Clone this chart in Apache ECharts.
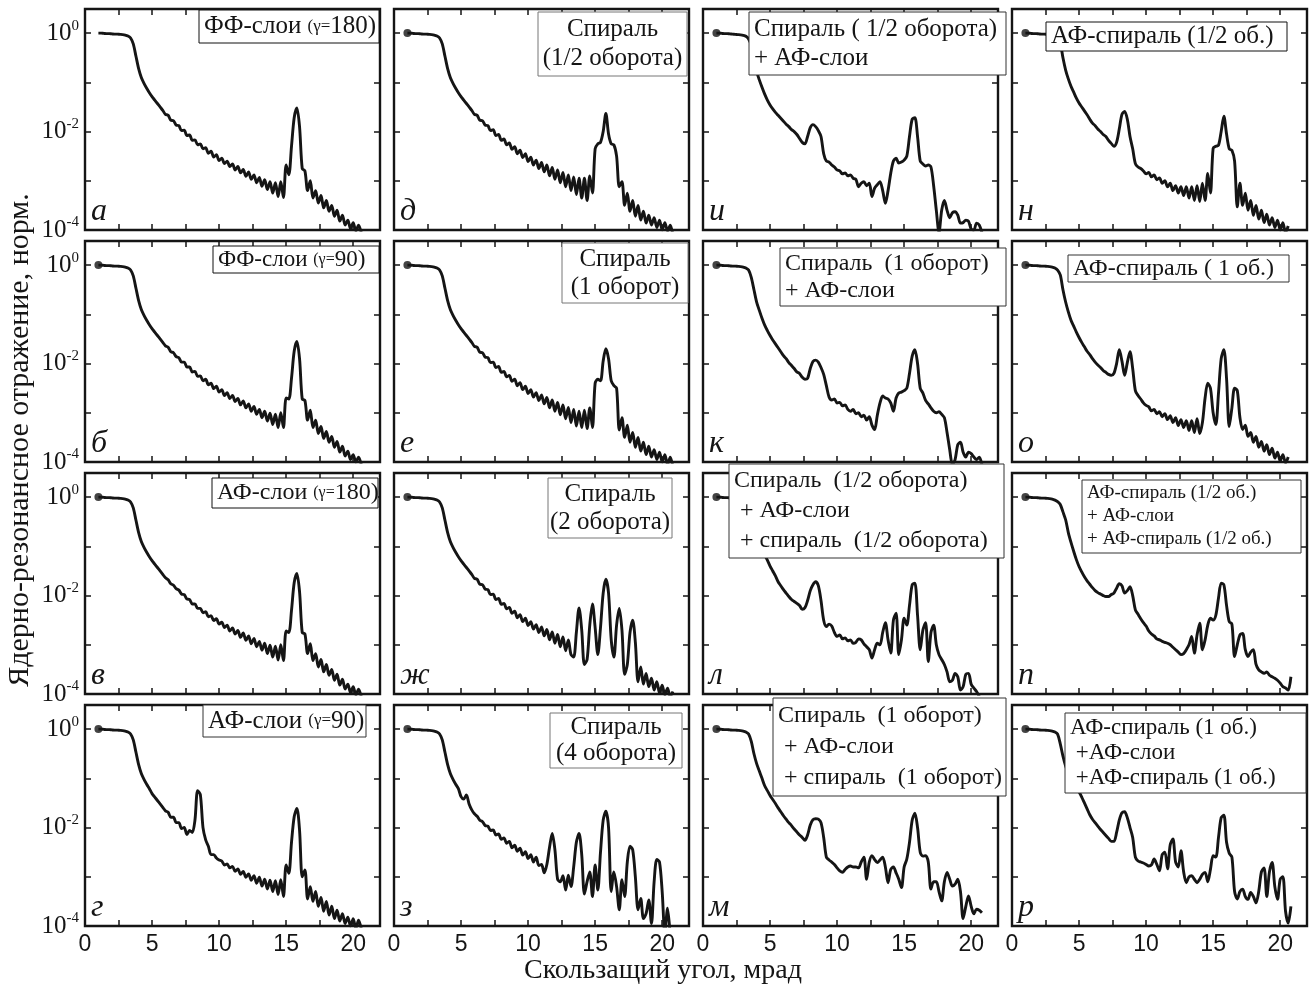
<!DOCTYPE html>
<html>
<head>
<meta charset="utf-8">
<script src="https://cdn.jsdelivr.net/npm/echarts@6/dist/echarts.min.js"></script>
<style>
  html, body { margin: 0; padding: 0; background: #fff; }
  #chart { width: 1312px; height: 990px; }
</style>
</head>
<body>
<div id="chart"></div>
<script>
// скользящий угол, мрад (общая сетка для всех панелей)
const angle = [
  1.0, 1.2, 1.4, 1.6, 1.8, 2.0, 2.2, 2.4, 2.6, 2.8,
  3.0, 3.2, 3.4, 3.6, 3.8, 4.0, 4.2, 4.4, 4.6, 4.8,
  5.0, 5.2, 5.4, 5.6, 5.8, 6.0, 6.2, 6.4, 6.6, 6.8,
  7.0, 7.2, 7.4, 7.6, 7.8, 8.0, 8.2, 8.4, 8.6, 8.8,
  9.0, 9.2, 9.4, 9.6, 9.8, 10.0, 10.2, 10.4, 10.6, 10.8,
  11.0, 11.2, 11.4, 11.6, 11.8, 12.0, 12.2, 12.4, 12.6, 12.8,
  13.0, 13.2, 13.4, 13.6, 13.8, 14.0, 14.2, 14.4, 14.6, 14.8,
  15.0, 15.2, 15.4, 15.6, 15.8, 16.0, 16.2, 16.4, 16.6, 16.8,
  17.0, 17.2, 17.4, 17.6, 17.8, 18.0, 18.2, 18.4, 18.6, 18.8,
  19.0, 19.2, 19.4, 19.6, 19.8, 20.0, 20.2, 20.4, 20.6, 20.8
];

// lg(отражения)
const lgA = [
  0, 0, -0.005, -0.01, -0.01, -0.015, -0.02, -0.02, -0.025, -0.03,
  -0.04, -0.06, -0.1, -0.22, -0.47, -0.72, -0.9, -1.02, -1.12, -1.21,
  -1.29, -1.36, -1.43, -1.5, -1.57, -1.65, -1.67, -1.77, -1.78, -1.87,
  -1.88, -1.98, -1.97, -2.08, -2.07, -2.18, -2.17, -2.27, -2.25, -2.35,
  -2.33, -2.44, -2.40, -2.52, -2.47, -2.59, -2.54, -2.65, -2.60, -2.71,
  -2.66, -2.78, -2.71, -2.84, -2.77, -2.91, -2.82, -2.97, -2.88, -3.04,
  -2.93, -3.11, -2.98, -3.18, -3.02, -3.25, -3.04, -3.32, -3.02, -3.34,
  -2.68, -2.88, -2.3, -1.72, -1.52, -1.9, -2.75, -2.8, -3.2, -3.0,
  -3.35, -3.2, -3.45, -3.3, -3.55, -3.4, -3.62, -3.5, -3.72, -3.6,
  -3.82, -3.7, -3.9, -3.8, -3.97, -3.85, -4.02, -3.9, -4.05, null
];
const lgB = [
  0, 0, -0.005, -0.01, -0.01, -0.015, -0.02, -0.02, -0.025, -0.03,
  -0.04, -0.06, -0.1, -0.22, -0.47, -0.72, -0.9, -1.02, -1.12, -1.21,
  -1.29, -1.36, -1.43, -1.5, -1.57, -1.64, -1.67, -1.76, -1.78, -1.86,
  -1.88, -1.97, -1.97, -2.07, -2.07, -2.17, -2.16, -2.26, -2.25, -2.35,
  -2.32, -2.43, -2.40, -2.51, -2.46, -2.58, -2.53, -2.65, -2.59, -2.71,
  -2.65, -2.77, -2.71, -2.84, -2.76, -2.90, -2.82, -2.97, -2.87, -3.03,
  -2.93, -3.10, -2.97, -3.17, -3.01, -3.24, -3.03, -3.30, -3.00, -3.30,
  -2.7, -2.72, -2.3, -1.75, -1.55, -1.9, -2.72, -2.75, -3.15, -2.95,
  -3.3, -3.15, -3.42, -3.28, -3.52, -3.38, -3.6, -3.48, -3.7, -3.58,
  -3.8, -3.68, -3.88, -3.78, -3.95, -3.85, -4.0, -3.9, -4.05, null
];
const lgV = [
  0, 0, -0.005, -0.01, -0.01, -0.015, -0.02, -0.02, -0.025, -0.03,
  -0.04, -0.06, -0.1, -0.22, -0.47, -0.72, -0.9, -1.02, -1.12, -1.21,
  -1.29, -1.36, -1.43, -1.5, -1.57, -1.64, -1.68, -1.76, -1.79, -1.86,
  -1.89, -1.97, -1.98, -2.07, -2.08, -2.17, -2.17, -2.26, -2.26, -2.35,
  -2.33, -2.43, -2.41, -2.51, -2.47, -2.58, -2.54, -2.65, -2.60, -2.72,
  -2.66, -2.78, -2.71, -2.85, -2.76, -2.91, -2.82, -2.98, -2.87, -3.04,
  -2.93, -3.11, -2.97, -3.18, -3.01, -3.25, -3.03, -3.31, -3.0, -3.32,
  -2.72, -2.75, -2.3, -1.74, -1.55, -1.92, -2.75, -2.78, -3.18, -2.98,
  -3.32, -3.18, -3.45, -3.3, -3.55, -3.4, -3.62, -3.5, -3.72, -3.6,
  -3.82, -3.7, -3.9, -3.8, -3.97, -3.85, -4.02, -3.9, -4.05, null
];
const lgG = [
  0, 0, -0.005, -0.01, -0.01, -0.015, -0.02, -0.02, -0.025, -0.03,
  -0.04, -0.06, -0.1, -0.22, -0.47, -0.72, -0.9, -1.02, -1.12, -1.21,
  -1.31, -1.38, -1.45, -1.52, -1.59, -1.66, -1.69, -1.79, -1.79, -1.90,
  -1.90, -2.02, -2.0, -2.14, -2.06, -2.1, -1.85, -1.25, -1.33, -2.0,
  -2.25, -2.38, -2.55, -2.55, -2.62, -2.66, -2.68, -2.76, -2.74, -2.82,
  -2.79, -2.89, -2.84, -2.95, -2.89, -3.01, -2.94, -3.07, -2.98, -3.13,
  -3.01, -3.19, -3.05, -3.25, -3.07, -3.3, -3.08, -3.36, -3.06, -3.4,
  -2.76, -2.93, -2.3, -1.78, -1.61, -2.05, -3.0, -2.86, -3.45, -3.2,
  -3.5, -3.3, -3.6, -3.42, -3.7, -3.5, -3.78, -3.6, -3.85, -3.68,
  -3.9, -3.75, -3.95, -3.82, -4.0, -3.85, -4.05, -3.88, -4.05, null
];
const lgD = [
  0, 0, -0.005, -0.01, -0.01, -0.015, -0.02, -0.02, -0.025, -0.03,
  -0.04, -0.06, -0.1, -0.22, -0.47, -0.72, -0.9, -1.02, -1.12, -1.21,
  -1.29, -1.36, -1.43, -1.5, -1.57, -1.65, -1.67, -1.77, -1.78, -1.87,
  -1.88, -1.98, -1.96, -2.08, -2.06, -2.18, -2.15, -2.27, -2.23, -2.36,
  -2.31, -2.45, -2.38, -2.53, -2.45, -2.61, -2.52, -2.68, -2.58, -2.75,
  -2.63, -2.82, -2.68, -2.9, -2.73, -2.97, -2.78, -3.04, -2.83, -3.12,
  -2.88, -3.2, -2.92, -3.28, -2.95, -3.35, -2.95, -3.4, -2.9, -3.25,
  -2.35, -2.25, -2.22, -2.0, -1.63, -2.05, -2.25, -2.27, -2.5, -3.12,
  -3.02, -3.5, -3.25, -3.62, -3.4, -3.72, -3.5, -3.8, -3.62, -3.86,
  -3.7, -3.9, -3.75, -3.95, -3.8, -4.0, -3.85, -4.02, -3.9, -4.1
];
const lgE = [
  0, 0, -0.005, -0.01, -0.01, -0.015, -0.02, -0.02, -0.025, -0.03,
  -0.04, -0.06, -0.1, -0.22, -0.47, -0.72, -0.9, -1.02, -1.12, -1.21,
  -1.29, -1.36, -1.43, -1.5, -1.57, -1.65, -1.67, -1.77, -1.78, -1.87,
  -1.88, -1.98, -1.97, -2.08, -2.06, -2.18, -2.16, -2.27, -2.24, -2.36,
  -2.32, -2.45, -2.39, -2.53, -2.46, -2.61, -2.53, -2.68, -2.59, -2.75,
  -2.64, -2.82, -2.69, -2.9, -2.74, -2.97, -2.79, -3.04, -2.84, -3.12,
  -2.89, -3.2, -2.93, -3.27, -2.97, -3.3, -2.95, -3.32, -2.9, -3.3,
  -2.4, -2.32, -2.35, -1.95, -1.7, -1.9, -2.35, -2.45, -2.5, -3.35,
  -3.1, -3.5, -3.25, -3.6, -3.4, -3.7, -3.5, -3.78, -3.6, -3.85,
  -3.68, -3.9, -3.75, -3.95, -3.8, -4.0, -3.85, -4.05, -3.9, -4.1
];
const lgZh = [
  0, 0, -0.005, -0.01, -0.01, -0.015, -0.02, -0.02, -0.025, -0.03,
  -0.04, -0.06, -0.1, -0.22, -0.47, -0.72, -0.9, -1.02, -1.12, -1.21,
  -1.29, -1.36, -1.43, -1.5, -1.57, -1.65, -1.67, -1.77, -1.78, -1.87,
  -1.88, -1.98, -1.97, -2.08, -2.06, -2.18, -2.16, -2.27, -2.24, -2.36,
  -2.32, -2.45, -2.39, -2.53, -2.46, -2.61, -2.53, -2.68, -2.59, -2.75,
  -2.64, -2.82, -2.69, -2.9, -2.74, -2.97, -2.79, -3.04, -2.84, -3.12,
  -2.9, -3.2, -3.25, -2.75, -2.25, -2.7, -3.4, -3.3, -2.6, -2.17,
  -2.65, -3.2, -2.65, -1.95, -1.67, -1.95, -2.9, -3.25, -2.6, -2.26,
  -2.7, -3.6, -3.4, -2.75, -2.5, -2.95, -3.75, -3.45, -3.8, -3.58,
  -3.85, -3.68, -3.92, -3.75, -3.98, -3.82, -4.02, -3.88, -4.05, -3.95
];
const lgZ = [
  0, 0, -0.005, -0.01, -0.01, -0.015, -0.02, -0.02, -0.025, -0.03,
  -0.04, -0.06, -0.1, -0.22, -0.47, -0.72, -0.9, -1.02, -1.12, -1.21,
  -1.37, -1.42, -1.34, -1.52, -1.64, -1.72, -1.77, -1.85, -1.88, -1.96,
  -1.97, -2.06, -2.05, -2.15, -2.13, -2.24, -2.21, -2.32, -2.28, -2.41,
  -2.36, -2.48, -2.42, -2.56, -2.49, -2.63, -2.55, -2.7, -2.6, -2.77,
  -2.75, -2.92, -2.75, -2.4, -2.12, -2.45, -3.05, -3.1, -2.98, -3.27,
  -2.97, -3.2, -2.8, -2.3, -2.12, -2.55, -3.35, -3.1, -2.9, -3.4,
  -2.76, -3.27, -2.5, -1.85, -1.67, -2.0, -3.3, -2.9, -3.2, -3.67,
  -3.06, -3.4, -2.7, -2.38, -2.45, -3.0, -3.67, -3.44, -3.85, -3.75,
  -3.47, -3.95, -3.1, -2.65, -2.7, -3.3, -4.15, -3.64, -4.2, null
];
const lgI = [
  0, 0, -0.005, -0.01, -0.01, -0.015, -0.02, -0.025, -0.03, -0.035,
  -0.045, -0.065, -0.12, -0.25, -0.5, -0.78, -0.95, -1.1, -1.24, -1.36,
  -1.46, -1.54, -1.61, -1.67, -1.73, -1.79, -1.85, -1.9, -1.96, -2.0,
  -2.06, -2.14, -2.22, -2.25, -2.1, -1.92, -1.86, -1.9, -1.98, -2.1,
  -2.45, -2.6, -2.62, -2.68, -2.72, -2.78, -2.8, -2.86, -2.84, -2.9,
  -2.88, -2.95, -2.97, -3.12, -3.05, -3.02, -3.1, -3.05, -3.32, -3.15,
  -3.08, -3.02, -3.2, -3.46, -3.2, -2.85, -2.6, -2.54, -2.64, -2.62,
  -2.58, -2.5, -2.1, -1.75, -1.72, -2.1, -2.6, -2.66, -2.7, -2.68,
  -2.72, -3.1, -3.6, -4.05, -3.6, -3.4, -3.6, -3.75, -3.65, -3.63,
  -3.7, -3.86, -3.85, -3.8, -3.82, -3.98, -4.0, -3.86, -3.9, -4.05
];
const lgK = [
  0, 0, -0.005, -0.01, -0.01, -0.015, -0.02, -0.02, -0.025, -0.03,
  -0.04, -0.06, -0.1, -0.25, -0.5, -0.75, -0.92, -1.08, -1.22, -1.33,
  -1.43, -1.52, -1.6, -1.68, -1.76, -1.84, -1.9, -1.98, -2.04, -2.1,
  -2.17, -2.2, -2.28, -2.32, -2.3, -2.1, -1.96, -1.93, -1.97, -2.08,
  -2.22, -2.45, -2.68, -2.74, -2.72, -2.8, -2.79, -2.86, -2.84, -2.93,
  -2.97, -2.93, -3.02, -3.0, -3.08, -3.05, -3.15, -3.08, -3.25, -3.34,
  -3.05, -2.8, -2.66, -2.7, -2.72, -2.8, -2.97, -2.7, -2.6, -2.58,
  -2.55, -2.5, -2.2, -1.85, -1.72, -2.0, -2.5, -2.6, -2.75, -2.82,
  -2.9, -2.97, -3.0, -2.98, -3.03, -3.1, -3.4, -3.75, -4.05, -3.95,
  -3.65, -3.6, -3.8, -3.9, -3.8, -3.83, -3.9, -3.95, -3.9, -4.05
];
const lgL = [
  0, 0, -0.005, -0.01, -0.01, -0.015, -0.02, -0.02, -0.025, -0.03,
  -0.04, -0.06, -0.1, -0.25, -0.5, -0.75, -0.92, -1.06, -1.18, -1.28,
  -1.4, -1.5, -1.6, -1.72, -1.8, -1.88, -1.95, -2.02, -2.08, -2.12,
  -2.16, -2.2, -2.28, -2.25, -2.1, -1.9, -1.78, -1.72, -1.8, -2.1,
  -2.5, -2.63, -2.58, -2.62, -2.75, -2.83, -2.8, -2.88, -2.86, -2.92,
  -2.9, -2.97, -2.95, -2.88, -2.9, -2.98, -3.04, -3.1, -3.27, -3.1,
  -2.97, -3.0, -2.75, -2.55, -2.9, -3.17, -2.5, -2.36, -3.2, -2.9,
  -2.46, -2.6, -2.2, -1.78, -1.75, -2.4, -3.1, -2.7, -2.55, -3.34,
  -2.75, -2.6, -3.0, -3.2, -3.3, -3.4, -3.55, -3.75, -3.72, -3.58,
  -3.65, -3.92, -3.85, -3.6, -3.58, -3.8, -3.88, -3.95, -4.05, null
];
const lgM = [
  0, 0, -0.005, -0.01, -0.01, -0.015, -0.02, -0.02, -0.025, -0.03,
  -0.04, -0.06, -0.1, -0.25, -0.5, -0.7, -0.85, -1.0, -1.15, -1.25,
  -1.35, -1.43, -1.51, -1.6, -1.68, -1.76, -1.83, -1.9, -1.96, -2.03,
  -2.09, -2.15, -2.2, -2.26, -2.15, -1.95, -1.84, -1.82, -1.83, -1.9,
  -2.2, -2.6, -2.66, -2.7, -2.75, -2.82, -2.88, -2.91, -2.85, -2.8,
  -2.78, -2.8, -2.8, -2.82, -2.7, -2.6, -3.05, -2.7, -2.57, -2.65,
  -2.71, -2.66, -2.6, -2.8, -3.12, -2.85, -2.8, -2.92, -3.05, -3.22,
  -2.8, -2.64, -2.3, -1.85, -1.71, -2.0, -2.5, -2.58, -2.57, -2.7,
  -3.25, -3.1, -3.1, -3.3, -3.49, -3.1, -2.91, -3.05, -3.19, -3.15,
  -3.05, -3.3, -3.85, -3.6, -3.39, -3.6, -3.75, -3.66, -3.68, -3.73
];
const lgN = [
  0, 0, -0.005, -0.01, -0.01, -0.015, -0.02, -0.02, -0.025, -0.03,
  -0.04, -0.06, -0.1, -0.2, -0.5, -0.75, -0.93, -1.08, -1.2, -1.32,
  -1.42, -1.5, -1.58, -1.66, -1.75, -1.83, -1.88, -1.95, -2.0, -2.06,
  -2.1, -2.18, -2.24, -2.3, -2.22, -1.95, -1.65, -1.59, -1.75, -2.1,
  -2.35, -2.65, -2.72, -2.75, -2.8, -2.86, -2.83, -2.92, -2.88, -2.98,
  -2.94, -3.05, -3.0, -3.12, -3.05, -3.2, -3.1, -3.25, -3.12, -3.3,
  -3.12, -3.35, -3.12, -3.4, -3.1, -3.42, -3.05, -3.4, -2.85, -3.25,
  -2.34, -2.3, -2.28, -2.0, -1.69, -2.05, -2.35, -2.38, -2.6, -3.53,
  -3.05, -3.5, -3.25, -3.6, -3.4, -3.7, -3.5, -3.78, -3.6, -3.85,
  -3.68, -3.9, -3.75, -3.95, -3.8, -4.0, -3.85, -4.05, -3.92, null
];
const lgO = [
  0, 0, -0.005, -0.01, -0.01, -0.015, -0.02, -0.02, -0.025, -0.03,
  -0.04, -0.06, -0.1, -0.2, -0.5, -0.75, -0.95, -1.12, -1.24, -1.36,
  -1.47, -1.57, -1.66, -1.75, -1.82, -1.9, -1.97, -2.03, -2.08, -2.14,
  -2.18, -2.22, -2.24, -2.2, -2.0, -1.72, -1.95, -2.24, -1.98, -1.76,
  -2.1, -2.55, -2.65, -2.72, -2.8, -2.85, -2.88, -2.96, -2.93, -3.02,
  -2.98, -3.08, -3.02, -3.14, -3.06, -3.2, -3.1, -3.26, -3.14, -3.3,
  -3.16, -3.36, -3.16, -3.4, -3.12, -3.42, -3.2, -2.7, -2.4, -2.5,
  -3.0, -3.24, -2.6, -1.9, -1.72, -2.3, -3.28, -2.9, -2.5, -2.55,
  -3.1, -3.34, -3.25, -3.48, -3.4, -3.6, -3.48, -3.7, -3.58, -3.78,
  -3.65, -3.85, -3.72, -3.92, -3.8, -3.98, -3.85, -4.02, -3.9, null
];
const lgP = [
  0, 0, -0.005, -0.01, -0.01, -0.015, -0.02, -0.02, -0.025, -0.03,
  -0.04, -0.06, -0.09, -0.15, -0.3, -0.46, -0.72, -0.92, -1.1, -1.27,
  -1.41, -1.52, -1.62, -1.7, -1.77, -1.84, -1.9, -1.94, -1.97, -2.0,
  -2.02, -2.02, -1.98, -1.95, -1.85, -1.76, -1.8, -1.95, -1.9, -1.82,
  -2.0, -2.29, -2.38, -2.47, -2.55, -2.62, -2.72, -2.78, -2.82, -2.88,
  -2.9, -2.93, -2.95, -2.97, -3.0, -3.05, -3.1, -3.15, -3.2, -3.18,
  -3.1, -3.0, -2.83, -3.17, -2.8, -2.56, -3.1, -2.9, -2.6, -2.46,
  -2.5, -2.4, -2.05, -1.75, -1.78, -2.2, -2.53, -2.58, -3.24, -3.0,
  -2.8, -2.77, -3.1, -3.24, -3.15, -3.1, -3.4, -3.51, -3.55, -3.58,
  -3.55, -3.62, -3.65, -3.68, -3.72, -3.78, -3.85, -3.88, -3.92, -3.65
];
const lgR = [
  0, 0, -0.005, -0.01, -0.01, -0.015, -0.02, -0.02, -0.025, -0.03,
  -0.04, -0.06, -0.1, -0.3, -0.55, -0.75, -0.9, -1.02, -1.12, -1.2,
  -1.28, -1.38, -1.5, -1.62, -1.74, -1.83, -1.9, -1.97, -2.04, -2.1,
  -2.16, -2.22, -2.28, -2.28, -2.1, -1.85, -1.7, -1.68, -1.8, -2.0,
  -2.2, -2.6, -2.68, -2.7, -2.72, -2.75, -2.78, -2.76, -2.64, -2.75,
  -2.88, -2.55, -2.5, -2.84, -2.35, -2.23, -2.7, -2.8, -2.47, -2.9,
  -3.12, -3.0, -2.98, -3.05, -3.12, -3.05, -2.95, -2.91, -3.1, -2.85,
  -2.57, -2.6, -2.2, -1.8, -1.75, -2.3, -2.52, -2.6, -3.3, -3.45,
  -3.3, -3.25, -3.4, -3.46, -3.32, -3.4, -3.53, -3.3, -2.9, -2.82,
  -3.4, -2.9, -2.71, -3.2, -3.46, -3.05, -3.0, -3.7, -3.94, -3.6
];

const panels = [
  { y: lgA, letter: 'а', col: 0, row: 0, dot: false },
  { y: lgB, letter: 'б', col: 0, row: 1, dot: true },
  { y: lgV, letter: 'в', col: 0, row: 2, dot: true },
  { y: lgG, letter: 'г', col: 0, row: 3, dot: true },
  { y: lgD, letter: 'д', col: 1, row: 0, dot: true },
  { y: lgE, letter: 'е', col: 1, row: 1, dot: true },
  { y: lgZh, letter: 'ж', col: 1, row: 2, dot: true },
  { y: lgZ, letter: 'з', col: 1, row: 3, dot: true },
  { y: lgI, letter: 'и', col: 2, row: 0, dot: true },
  { y: lgK, letter: 'к', col: 2, row: 1, dot: true },
  { y: lgL, letter: 'л', col: 2, row: 2, dot: true },
  { y: lgM, letter: 'м', col: 2, row: 3, dot: true },
  { y: lgN, letter: 'н', col: 3, row: 0, dot: true },
  { y: lgO, letter: 'о', col: 3, row: 1, dot: true },
  { y: lgP, letter: 'п', col: 3, row: 2, dot: true },
  { y: lgR, letter: 'р', col: 3, row: 3, dot: true }
];

// подписи в рамках: [x, y, w, h], строки, кегль, интерлиньяж, выравнивание, цвет рамки
const boxes = [
  { r: [199, 10, 180, 33], t: ['ФФ-слои {s|(γ=}180)'], fs: 25, lh: 30, al: 'left', c: '#111' },
  { r: [213, 246, 166, 27], t: ['ФФ-слои {s|(γ=}90)'], fs: 23, lh: 26, al: 'left', c: '#111' },
  { r: [212, 478, 166, 30], t: ['АФ-слои {s|(γ=}180)'], fs: 24, lh: 28, al: 'left', c: '#111' },
  { r: [203, 705, 163, 32], t: ['АФ-слои {s|(γ=}90)'], fs: 25, lh: 30, al: 'left', c: '#333' },
  { r: [538, 12, 149, 64], t: ['Спираль', '(1/2 оборота)'], fs: 25, lh: 29, al: 'center', c: '#777' },
  { r: [562, 243, 126, 60], t: ['Спираль', '(1 оборот)'], fs: 25, lh: 28, al: 'center', c: '#777' },
  { r: [548, 478, 124, 60], t: ['Спираль', '(2 оборота)'], fs: 25, lh: 28, al: 'center', c: '#777' },
  { r: [550, 713, 132, 55], t: ['Спираль', '(4 оборота)'], fs: 25, lh: 26, al: 'center', c: '#777' },
  { r: [749, 12, 257, 63], t: ['Спираль ( 1/2 оборота)', '+ АФ-слои'], fs: 25, lh: 29, al: 'left', c: '#333' },
  { r: [780, 248, 226, 58], t: ['Спираль  (1 оборот)', '+ АФ-слои'], fs: 24, lh: 27, al: 'left', c: '#333' },
  { r: [729, 464, 275, 94], t: ['Спираль  (1/2 оборота)', ' + АФ-слои', ' + спираль  (1/2 оборота)'], fs: 24, lh: 30, al: 'left', c: '#333' },
  { r: [773, 698, 233, 98], t: ['Спираль  (1 оборот)', ' + АФ-слои', ' + спираль  (1 оборот)'], fs: 24, lh: 31, al: 'left', c: '#333' },
  { r: [1046, 22, 241, 29], t: ['АФ-спираль (1/2 об.)'], fs: 25, lh: 28, al: 'left', c: '#111' },
  { r: [1068, 255, 221, 27], t: ['АФ-спираль ( 1 об.)'], fs: 24, lh: 26, al: 'left', c: '#333' },
  { r: [1082, 480, 219, 73], t: ['АФ-спираль (1/2 об.)', '+ АФ-слои', '+ АФ-спираль (1/2 об.)'], fs: 19, lh: 23, al: 'left', c: '#333' },
  { r: [1065, 713, 241, 80], t: ['АФ-спираль (1 об.)', ' +АФ-слои', ' +АФ-спираль (1 об.)'], fs: 23, lh: 25, al: 'left', c: '#333' }
];

const colLeft = [85, 394, 703, 1012];
const rowTop = [9, 241, 473, 705];
const W = 295, H = 221;
const serif = '"Liberation Serif", "Times New Roman", serif';
const sans = '"Liberation Sans", Arial, sans-serif';
const ink = '#151515';

const chart = echarts.init(document.getElementById('chart'));
const grids = [], xAxes = [], yAxes = [], series = [], elements = [];

panels.forEach((p, i) => {
  const left = colLeft[p.col], top = rowTop[p.row];
  grids.push({ left: left, top: top, width: W, height: H, show: true,
    borderColor: ink, borderWidth: 2.4, backgroundColor: 'rgba(0,0,0,0)' });
  const tick = { show: true, inside: true, length: 6, lineStyle: { color: ink, width: 1.5 } };
  const noLine = { show: false, onZero: false };
  xAxes.push({ gridIndex: i, type: 'value', position: 'bottom', min: 0, max: 22, interval: 2.5,
    axisLine: noLine, axisTick: tick, splitLine: { show: false },
    axisLabel: { show: p.row === 3, margin: 7, fontFamily: sans, fontSize: 23, color: ink,
      formatter: v => (v % 5 === 0 ? String(v) : '') } });
  xAxes.push({ gridIndex: i, type: 'value', position: 'top', min: 0, max: 22, interval: 2.5,
    axisLine: noLine, axisTick: tick, splitLine: { show: false }, axisLabel: { show: false } });
  yAxes.push({ gridIndex: i, type: 'value', position: 'left', min: -4, max: 0.49, interval: 1,
    axisLine: noLine, axisTick: tick, splitLine: { show: false },
    axisLabel: { show: p.col === 0, margin: 6,
      formatter: v => (v === 0 || v === -2 || v === -4 ? '{b|10}{s|' + (v === 0 ? '0' : String(v)) + '}' : ''),
      rich: {
        b: { fontFamily: serif, fontSize: 25, color: ink, lineHeight: 30 },
        s: { fontFamily: serif, fontSize: 15, color: ink, verticalAlign: 'top', lineHeight: 18 }
      } } });
  yAxes.push({ gridIndex: i, type: 'value', position: 'right', min: -4, max: 0.49, interval: 1,
    axisLine: noLine, axisTick: tick, splitLine: { show: false }, axisLabel: { show: false } });

  const pts = [];
  angle.forEach((x, k) => { if (p.y[k] !== null) pts.push([x, p.y[k]]); });
  series.push({ type: 'line', xAxisIndex: 2 * i, yAxisIndex: 2 * i, data: pts,
    smooth: 0.3, symbol: 'none', showSymbol: false, clip: true, z: 3,
    lineStyle: { color: ink, width: 2.9 } });
  if (p.dot) {
    series.push({ type: 'scatter', xAxisIndex: 2 * i, yAxisIndex: 2 * i,
      data: [[angle[0], p.y[0]]], symbolSize: 8, itemStyle: { color: ink }, z: 4 });
  }

  elements.push({ type: 'text', x: left + 6, y: top + H - 2, z: 60,
    style: { text: p.letter, fontFamily: serif, fontStyle: 'italic', fontSize: 32,
      fill: ink, verticalAlign: 'bottom', align: 'left' } });
});

boxes.forEach(b => {
  const [x, y, w, h] = b.r;
  elements.push({ type: 'rect', z: 100, shape: { x: x, y: y, width: w, height: h },
    style: { fill: '#fff', stroke: b.c, lineWidth: 1 } });
  const textTop = y + (h - b.t.length * b.lh) / 2;
  elements.push({ type: 'text', z: 101,
    x: b.al === 'center' ? x + w / 2 : x + 5, y: textTop,
    style: { text: b.t.join('\n'), fontFamily: serif, fontSize: b.fs, fill: ink,
      lineHeight: b.lh, align: b.al, verticalAlign: 'top',
      rich: { s: { fontFamily: serif, fontSize: Math.round(b.fs * 0.68), fill: ink, lineHeight: b.lh } } } });
});

// подписи осей
elements.push({ type: 'text', z: 60, x: 20, y: 440, rotation: Math.PI / 2,
  style: { text: 'Ядерно-резонансное отражение, норм.', fontFamily: serif, fontSize: 30,
    fill: ink, align: 'center', verticalAlign: 'middle' } });
elements.push({ type: 'text', z: 60, x: 663, y: 971,
  style: { text: 'Скользащий угол, мрад', fontFamily: serif, fontSize: 28,
    fill: ink, align: 'center', verticalAlign: 'middle' } });

chart.setOption({
  animation: false,
  backgroundColor: '#fff',
  grid: grids,
  xAxis: xAxes,
  yAxis: yAxes,
  series: series,
  graphic: { elements: elements }
});
</script>
</body>
</html>
